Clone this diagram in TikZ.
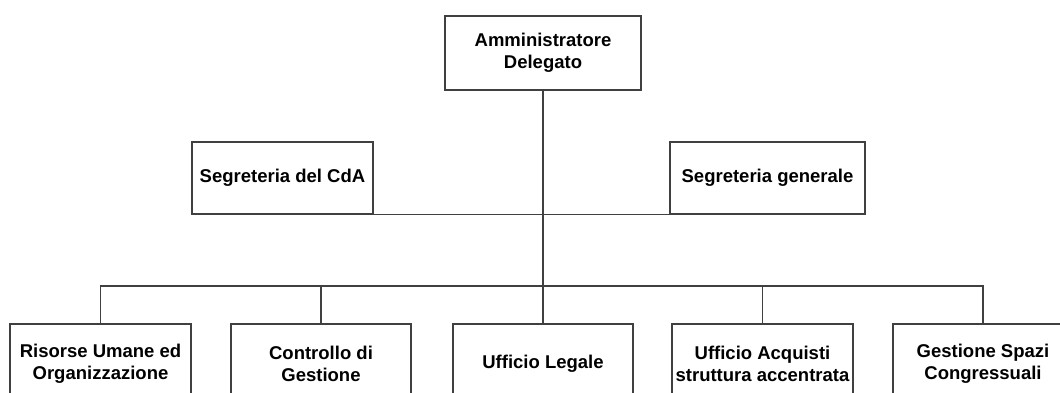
\documentclass[tikz,border=0pt]{standalone}
\usepackage{fontspec}
\setmainfont{Liberation Sans}
\usetikzlibrary{positioning}

\tikzset{
  box/.style={draw=black!75,line width=1.1pt,fill=white,align=center,
              font=\fontsize{18.5}{22}\selectfont\bfseries,inner sep=0pt},
  link/.style={draw=black!75,line width=1.1pt}
}

\begin{document}
\begin{tikzpicture}[x=1pt,y=-1pt]

\useasboundingbox (0,0) rectangle (1060,392);
\clip (0,0) rectangle (1060,392);

% vertice
\node[box,minimum width=196pt,minimum height=74pt] (ad) at (543,53)
  {Amministratore\\Delegato};

% staff
\node[box,minimum width=181pt,minimum height=72pt] (cda) at (282.5,178)
  {Segreteria del CdA};
\node[box,minimum width=195pt,minimum height=72pt] (seg) at (767.5,178)
  {Segreteria generale};

% uffici
\node[box,minimum width=181pt,minimum height=80pt] (ru) at (100.5,364)
  {Risorse Umane ed\\Organizzazione};
\node[box,minimum width=180pt,minimum height=80pt] (cg) at (321,364)
  {Controllo di\\Gestione};
\node[box,minimum width=180pt,minimum height=80pt] (ul) at (543,364)
  {Ufficio Legale};
\node[box,minimum width=181pt,minimum height=80pt] (ua) at (762.5,364)
  {Ufficio Acquisti\\struttura accentrata};
\node[box,minimum width=180pt,minimum height=80pt] (gs) at (983,364)
  {Gestione Spazi\\Congressuali};

\coordinate (bus) at (543,286);

% linee
\draw[link] (ad.south) -- (ul.north);
\draw[link] (cda.south east) -- (seg.south west);
\draw[link] (ru.north) -- (ru.north |- bus) -- (gs.north |- bus) -- (gs.north);
\foreach \n in {cg,ua}
  \draw[link] (\n.north |- bus) -- (\n.north);

\end{tikzpicture}
\end{document}
